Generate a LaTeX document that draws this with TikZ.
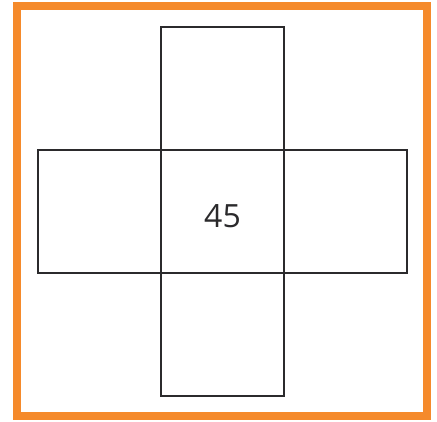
\documentclass[tikz,border=0pt]{standalone}
\usepackage{fontspec}
\setmainfont{Open Sans}
\usetikzlibrary{positioning}

\definecolor{frameorange}{HTML}{F58A2B}
\definecolor{cellgray}{HTML}{2B2A2C}

\begin{document}
\begin{tikzpicture}[x=1pt, y=-1pt, line cap=rect, line join=miter]
\tikzset{
  cell/.style={draw=cellgray, line width=2.4pt, minimum size=123pt, inner sep=0pt, outer sep=0pt}
}
\useasboundingbox (0,0) rectangle (437,421);

% orange frame
\draw[frameorange, line width=8pt] (17,6) rectangle (427,416);

% the net of five cells
\node[cell] (mid) at (222.5,211.5) {};
\node[cell, above=0pt of mid] (top) {};
\node[cell, below=0pt of mid] (bot) {};
\node[cell, left=0pt of mid] (lft) {};
\node[cell, right=0pt of mid] (rgt) {};

\node[font=\fontsize{32}{32}\selectfont, text=cellgray] (num) at (222.5,216.5) {45};

\end{tikzpicture}
\end{document}
